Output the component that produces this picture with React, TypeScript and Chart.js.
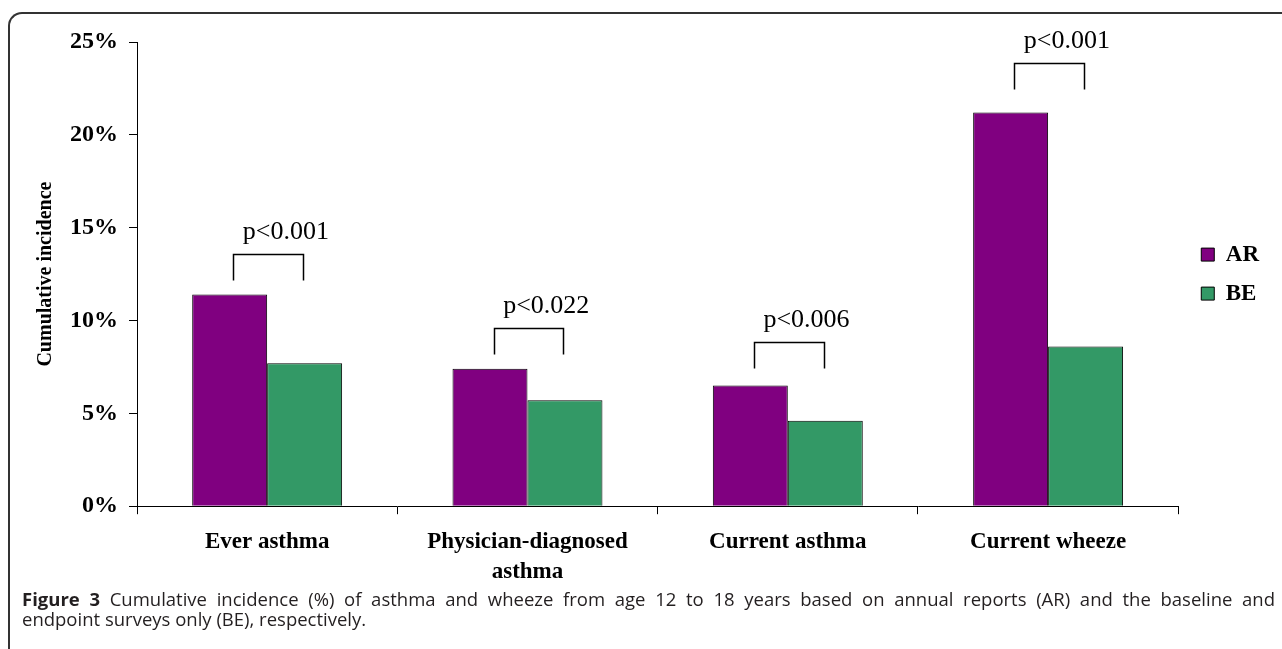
import React, { useEffect, useRef } from "react";
import { Chart, registerables } from "chart.js";

Chart.register(...registerables);

const categories = [["Ever asthma"], ["Physician-diagnosed", "asthma"], ["Current asthma"], ["Current wheeze"]];
const arValues = [11.4, 7.4, 6.5, 21.2];
const beValues = [7.7, 5.7, 4.6, 8.6];
const pLabels = ["p<0.001", "p<0.022", "p<0.006", "p<0.001"];
const bracketLevels = [13.6, 9.6, 8.85, 23.87];
const seriesNames = ["AR", "BE"];

const SERIF = "'Liberation Serif', 'Times New Roman', serif";

const bracketPlugin = {
  id: "brackets",
  afterDatasetsDraw(chart: any) {
    const { ctx } = chart;
    const xs = chart.scales.x;
    const ys = chart.scales.y;
    const m0 = chart.getDatasetMeta(0);
    ctx.save();
    ctx.strokeStyle = "#000";
    ctx.lineWidth = 1.5;
    ctx.fillStyle = "#000";
    ctx.font = `26px ${SERIF}`;
    ctx.textAlign = "center";
    ctx.textBaseline = "alphabetic";
    pLabels.forEach((lab, i) => {
      const c = xs.getPixelForValue(i);
      const bw = m0.data[i].width;
      const l = Math.round(c - 0.45 * bw) + 0.5;
      const r = Math.round(c + 0.48 * bw) + 0.5;
      const top = Math.round(ys.getPixelForValue(bracketLevels[i])) + 0.5;
      const bot = top + 26;
      ctx.beginPath();
      ctx.moveTo(l, bot);
      ctx.lineTo(l, top);
      ctx.lineTo(r, top);
      ctx.lineTo(r, bot);
      ctx.stroke();
      ctx.fillText(lab, c + 0.25 * bw, top - 16);
    });
    ctx.restore();
  },
};

const legendShift = {
  id: "legendShift",
  afterLayout(chart: any) {
    const lg = chart.legend;
    if (lg) {
      lg.left += 7;
      lg.right += 7;
    }
  },
};

export default function App() {
  const ref = useRef<HTMLCanvasElement>(null);

  useEffect(() => {
    if (!ref.current) return;
    const chart = new Chart(ref.current, {
      type: "bar",
      data: {
        labels: categories as any,
        datasets: [
          {
            label: seriesNames[0],
            data: arValues,
            backgroundColor: "#800080",
            borderColor: "#000",
            borderWidth: 1,
            categoryPercentage: 0.576,
            barPercentage: 1,
          },
          {
            label: seriesNames[1],
            data: beValues,
            backgroundColor: "#339966",
            borderColor: "#000",
            borderWidth: 1,
            categoryPercentage: 0.576,
            barPercentage: 1,
          },
        ],
      },
      options: {
        responsive: false,
        animation: false,
        layout: { padding: { left: 10, top: 42, right: 20, bottom: 7 } },
        plugins: {
          legend: {
            position: "right",
            fullSize: false,
            align: "center",
            labels: {
              boxWidth: 13,
              boxHeight: 13,
              padding: 16,
              color: "#000",
              font: { family: SERIF, size: 23, weight: "bold" },
            },
          },
          tooltip: { enabled: false },
        },
        scales: {
          x: {
            grid: { drawOnChartArea: false, drawTicks: true, tickLength: 8, color: "#000", offset: true },
            border: { color: "#000", width: 1 },
            ticks: {
              color: "#000",
              padding: 13,
              maxRotation: 0,
              autoSkip: false,
              font: { family: SERIF, size: 23, weight: "bold", lineHeight: 1.3 },
            },
          },
          y: {
            min: 0,
            max: 25,
            ticks: {
              stepSize: 5,
              color: "#000",
              padding: 11,
              callback: (v: any) => v + "%",
              font: { family: SERIF, size: 24, weight: "bold" },
            },
            grid: { drawOnChartArea: false, drawTicks: true, tickLength: 8, color: "#000" },
            border: { color: "#000", width: 1 },
            title: {
              display: true,
              text: "Cumulative incidence",
              color: "#000",
              font: { family: SERIF, size: 20, weight: "bold", lineHeight: 1.2 },
              padding: { top: 24, bottom: 1 },
            },
          },
        },
      },
      plugins: [bracketPlugin, legendShift],
    });
    return () => chart.destroy();
  }, []);

  return (
    <div style={{ position: "fixed", left: 0, top: 0, width: 1282, height: 649, overflow: "hidden", background: "#fff" }}>
      <div
        style={{
          position: "absolute",
          left: 8,
          top: 12,
          width: 1400,
          height: 800,
          borderLeft: "2px solid #333",
          borderTop: "2px solid #333",
          borderTopLeftRadius: 14,
          boxSizing: "border-box",
        }}
      />
      <canvas ref={ref} width={1282} height={607} style={{ position: "absolute", left: 0, top: 0, display: "block" }} />
      <div
        style={{
          position: "absolute",
          left: 22,
          top: 589,
          width: 1253,
          fontFamily: "'Open Sans', sans-serif",
          fontSize: 18.5,
          lineHeight: "20px",
          color: "#231f20",
        }}
      >
        <div style={{ whiteSpace: "nowrap", textAlign: "justify", textAlignLast: "justify" as any }}>
          <b>Figure 3</b> Cumulative incidence (%) of asthma and wheeze from age 12 to 18 years based on annual reports (AR) and the baseline and
        </div>
        <div style={{ whiteSpace: "nowrap" }}>endpoint surveys only (BE), respectively.</div>
      </div>
    </div>
  );
}
